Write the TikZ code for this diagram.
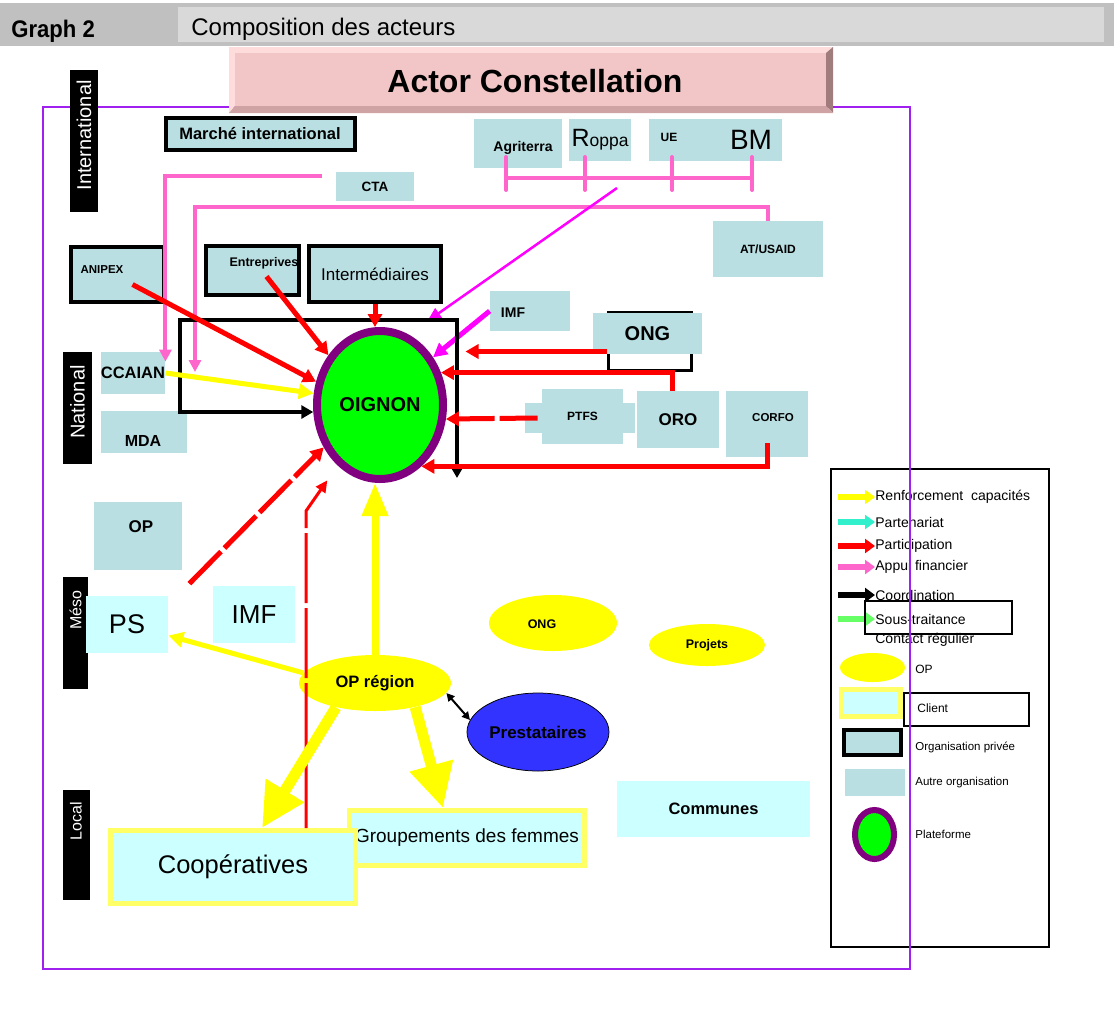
\documentclass[tikz,border=0pt]{standalone}
\usepackage{fontspec}
\setmainfont{Liberation Sans}
\newfontfamily\condfont[FakeStretch=0.92]{Liberation Sans}
\usetikzlibrary{arrows.meta,shapes.geometric}

\definecolor{orgblue}{RGB}{185,223,226}
\definecolor{clientcyan}{RGB}{204,255,255}
\definecolor{clientyellow}{RGB}{255,255,102}
\definecolor{opyellow}{RGB}{255,255,0}
\definecolor{oignongreen}{RGB}{0,255,0}
\definecolor{oignonpurple}{RGB}{128,0,128}
\definecolor{prestablue}{RGB}{51,51,255}
\definecolor{partred}{RGB}{255,0,0}
\definecolor{appuipink}{RGB}{255,102,204}
\definecolor{appuimagenta}{RGB}{255,0,255}
\definecolor{framepurple}{RGB}{160,32,240}
\definecolor{partcyan}{RGB}{51,240,204}
\definecolor{soustgreen}{RGB}{102,255,102}
\definecolor{hdrdark}{RGB}{192,192,192}
\definecolor{hdrlight}{RGB}{217,217,217}
\definecolor{bannerpink}{RGB}{242,198,198}
\definecolor{bannerlight}{RGB}{255,220,220}
\definecolor{bannerdark}{RGB}{160,124,124}
\definecolor{bannermid}{RGB}{207,163,163}

\tikzset{
  every picture/.style={line width=0.75pt},
  txtb/.style={font=\fontsize{#1}{#1}\selectfont\bfseries},
  txtr/.style={font=\fontsize{#1}{#1}\selectfont},
  dims/.style 2 args={minimum width=#1pt, minimum height=#2pt},
  autre/.style={fill=orgblue, inner sep=0pt},
  privee/.style={fill=orgblue, draw=black, line width=4pt, inner sep=0pt},
  client/.style={fill=clientcyan, draw=clientyellow, line width=5pt, inner sep=0pt},
  mesobox/.style={fill=clientcyan, inner sep=0pt},
  opcloud/.style={ellipse, fill=opyellow, inner sep=0pt},
  niveau/.style={fill=black, inner sep=0pt},
  niveautxt/.style={text=white, rotate=90, anchor=east, inner sep=0pt},
  legtxt/.style={anchor=west, inner sep=0pt},
  legarrow/.style={line width=6pt, -{Triangle[length=10pt,width=14pt]}},
  renf/.style={draw=opyellow, line width=5pt, -{Triangle[length=15pt,width=15pt]}},
  renfmid/.style={draw=opyellow, line width=7pt, -{Triangle[length=33pt,width=25pt]}},
  renfbig/.style={draw=opyellow, line width=11pt, -{Triangle[length=44pt,width=42pt]}},
  part/.style={draw=partred, line width=5pt, -{Triangle[length=13pt,width=14pt]}},
  partfin/.style={draw=partred, line width=3pt, -{Triangle[length=12pt,width=11pt]}},
  appui/.style={draw=appuipink, line width=4pt, -{Triangle[length=12pt,width=12pt]}},
  bracket/.style={draw=appuipink, line width=4pt, line cap=round},
  appuimag/.style={draw=appuimagenta, line width=2.5pt, -{Triangle[length=14pt,width=12pt]}},
  appuimagthick/.style={draw=appuimagenta, line width=5pt, -{Triangle[length=14pt,width=14pt]}},
  coord/.style={draw=black, line width=4pt, {Triangle[length=12pt,width=13pt]}-{Triangle[length=12pt,width=13pt]}},
  contact/.style={draw=black, line width=2pt, {Triangle[length=8pt,width=8pt]}-{Triangle[length=8pt,width=8pt]}}
}

\begin{document}
\begin{tikzpicture}[x=1pt,y=-1pt]
\useasboundingbox (0,0) rectangle (1114,1010);

%Header
\fill[hdrdark] (0,3) rectangle (1114,46);
\fill[hdrlight] (178,7) rectangle (1104,42);
\node[anchor=base west, inner sep=0pt, font=\condfont\fontsize{24}{24}\selectfont\bfseries] (hdrgraph) at (11,37) {Graph 2};
\node[anchor=base west, inner sep=0pt, txtr=24] (hdrtitle) at (191,35) {Composition des acteurs};

%Legend
\node[draw=black, line width=2pt, dims={218}{478}, inner sep=0pt] (legende) at (940,708) {};
\foreach \col/\ypos/\txt [count=\i] in {opyellow/497/{Renforcement\ \ capacités}, partcyan/522/Partenariat, partred/546/Participation, appuipink/567/{Appui financier}, black/595/Coordination, soustgreen/619/Sous-traitance}{
  \coordinate (legfrom\i) at (838,\ypos);
  \node[legtxt, txtr=14] (legtxt\i) at (875,\ypos) {\txt};
  \draw[legarrow, draw=\col] (legfrom\i) -- (legtxt\i.west);
}
\node[legtxt, txtr=14] (legcontact) at (875,640) {Contact régulier};
\node[draw=black, line width=2pt, dims={147}{33}, inner sep=0pt] (legsoustfrm) at (938.5,617.5) {};
\node[opcloud, dims={65}{29}] (legop) at (872.5,667.5) {};
\node[legtxt, txtr=12] (legop-txt) at (915,669) {OP};
\node[client, dims={59}{27}] (legclient) at (871,703) {};
\node[draw=black, line width=2pt, dims={125}{33}, inner sep=0pt] (legclientfrm) at (966.5,709.5) {};
\node[legtxt, txtr=12] (legclient-txt) at (917,708) {Client};
\node[privee, dims={57}{25}] (legprivee) at (872.5,742.5) {};
\node[legtxt, txtr=11.5] (legprivee-txt) at (915,747) {Organisation privée};
\node[autre, dims={60}{27}] (legautre) at (875,782.5) {};
\node[legtxt, txtr=11.5] (legautre-txt) at (915,783) {Autre organisation};
\node[ellipse, draw=oignonpurple, line width=6pt, fill=oignongreen, dims={39}{49}, inner sep=0pt] (legplat) at (874.5,834.5) {};
\node[legtxt, txtr=11.5] (legplat-txt) at (915,834) {Plateforme};

%Frame
\draw[framepurple, line width=2pt] (43,107) rectangle (910,969);

%Banner
\fill[bannerlight] (229,47) -- (833,47) -- (826,53) -- (235,53) -- (235,106) -- (229,113) -- cycle;
\fill[bannerdark] (833,47) -- (833,113) -- (826,106) -- (826,53) -- cycle;
\fill[bannermid] (229,113) -- (833,113) -- (826,106) -- (235,106) -- cycle;
\fill[bannerpink] (235,53) rectangle (826,106);
\node[txtb=32] (titre) at (535,81) {Actor Constellation};

%Levels
\node[niveau, dims={28}{142}] (intl) at (84,141) {};
\node[niveautxt, txtr=20] (intl-txt) at (84,80) {International};
\node[niveau, dims={29}{112}] (natl) at (77.5,408) {};
\node[niveautxt, txtr=20] (natl-txt) at (77.5,365) {National};
\node[niveau, dims={25}{112}] (mesol) at (75.5,633) {};
\node[niveautxt, txtr=16] (mesol-txt) at (75.5,590) {Méso};
\node[niveau, dims={27}{110}] (locl) at (76,845) {};
\node[niveautxt, txtr=16] (locl-txt) at (76,802) {Local};

%International actors
\node[privee, dims={189}{32}, txtb=16.5] (marche) at (260,134) {Marché international};
\node[autre, dims={88}{49}] (agriterra) at (518,143.5) {};
\node[txtb=14] (agriterra-txt) at (523,148) {Agriterra};
\node[autre, dims={62}{42}, txtr=17.5] (roppa) at (600,140) {{\fontsize{25}{25}\selectfont R}oppa};
\node[autre, dims={71}{42}] (ue) at (684.5,140) {};
\node[txtb=12] (ue-txt) at (669,137) {UE};
\node[autre, dims={62}{42}, txtr=28] (bm) at (751,140) {BM};
\node[autre, dims={78}{29}, txtb=13.5] (cta) at (375,186.5) {CTA};
\node[autre, dims={110}{56}, txtb=12] (atusaid) at (768,249) {AT/USAID};

%National actors
\node[privee, dims={93}{55}] (anipex) at (117.5,274.5) {};
\node[txtb=11.5] (anipex-txt) at (102,270) {ANIPEX};
\node[privee, dims={93}{49}] (entrepr) at (252.5,270.5) {};
\node[txtb=12.5] (entrepr-txt) at (264,263) {Entreprives};
\node[privee, dims={132}{56}, txtr=17] (interm) at (375,274) {Intermédiaires};
\node[autre, dims={62}{42}, txtb=16.5] (ccaian) at (133,373) {CCAIAN};
\node[autre, dims={86}{42}] (mda) at (144,432) {};
\node[txtb=16] (mda-txt) at (143,441) {MDA};
\node[autre, dims={80}{40}] (imfnat) at (530,311) {};
\node[txtb=14] (imfnat-txt) at (513,313) {IMF};
\node[draw=black, line width=3pt, dims={83}{58}, inner sep=0pt] (ongfrm) at (649.5,341) {};
\node[autre, dims={109}{41}, txtb=20] (ongnat) at (647.5,333.5) {ONG};
\node[autre, dims={110}{30}] (ptfswide) at (580,418) {};
\node[autre, dims={81}{55}, txtb=12] (ptfs) at (582.5,416.5) {PTFS};
\node[autre, dims={82}{57}, txtb=17] (oro) at (678,419.5) {ORO};
\node[autre, dims={82}{66}] (corfo) at (767,424) {};
\node[txtb=11.5] (corfo-txt) at (773,418) {CORFO};
\node[ellipse, draw=oignonpurple, line width=8pt, fill=oignongreen, dims={126}{148}, inner sep=0pt, txtb=20] (oignon) at (380,405) {OIGNON};

%Meso and local actors
\node[autre, dims={88}{68}] (opmeso) at (138,536) {};
\node[txtb=17] (opmeso-txt) at (141,527) {OP};
\node[mesobox, dims={82}{57}, txtr=27] (ps) at (127,624.5) {PS};
\node[mesobox, dims={82}{57}, txtr=26] (imfmeso) at (254,614.5) {IMF};
\node[opcloud, dims={152}{56}, txtb=16.5] (opregion) at (375,683) {OP région};
\node[opcloud, dims={128}{56}] (ongmeso) at (553,623) {};
\node[txtb=12.5] (ongmeso-txt) at (542,624) {ONG};
\node[opcloud, dims={116}{42}, txtb=12.5] (projets) at (707,645) {Projets};
\node[ellipse, draw=black, fill=prestablue, dims={142}{78}, inner sep=0pt, txtb=17] (presta) at (538,732) {Prestataires};
\node[mesobox, dims={193}{56}, txtb=16.5] (communes) at (713.5,809) {Communes};
\node[client, dims={235}{55}, txtr=19] (groupe) at (467,838) {Groupements des femmes};
\node[client, dims={245}{73}, txtr=25.5] (coop) at (233,867) {Coopératives};

%Appui financier
\draw[bracket] (506,178) -- (752,178);
\foreach \tx in {506,585,672,752}
  \draw[bracket] (\tx,157) -- (\tx,190);
\draw[appui] ([xshift=-14pt,yshift=10.5pt]cta.west) -| ([yshift=-10pt]ccaian.north east);
\coordinate (appuicorner) at (195,207);
\coordinate (appuiend) at (195,372);
\draw[appui] (atusaid.north) |- (appuicorner) -- (appuiend);
\coordinate (bailleurs) at (617,188);
\draw[appuimag, shorten >=23pt] (bailleurs) -- (oignon.68);
\draw[appuimagthick] (imfnat.west) -- (oignon.42);

%Coordination
\coordinate (coordtl) at (180,320);
\coordinate (coordend) at (457,478);
\draw[coord] (oignon.186) -| (coordtl) -| (coordend);

%Participation
\draw[part] ([xshift=15pt,yshift=-10pt]anipex.center) -- (oignon.160);
\draw[part] ([xshift=14pt,yshift=-6pt]entrepr.center) -- (oignon.136);
\draw[part] (interm.south) -- (interm.south |- oignon.north);
\draw[part] ([yshift=-41pt]ongfrm.north west) -- ++(-141,0);
\draw[part] ([xshift=-6pt]oro.north) |- (oignon.28);
\draw[part, dash pattern=on 38pt off 5pt] ([xshift=13pt]ptfswide.west) -- (oignon.-12);
\draw[part] ([yshift=14pt]corfo.south) |- (oignon.-56);
\draw[part, dash pattern=on 45pt off 5pt] ([xshift=21pt,yshift=12pt]ps.north east) -- (oignon.217);
\draw[partfin, dash pattern=on 70pt off 5pt, shorten >=18pt] ([xshift=73pt]coop.north) -- ++(0,-317) -- (oignon.235);

%Renforcement capacites
\draw[renf] (ccaian.east) -- (oignon.170);
\draw[renfmid] (opregion.north) -- (opregion.north |- oignon.south);
\draw[renf] (opregion.172) -- (ps.-15);
\draw[renfbig] (opregion.212) -- ([xshift=29pt]coop.north);
\draw[renfbig] (opregion.-31) -- ([xshift=-24pt]groupe.north);

%Contact
\draw[contact] (opregion.-8) -- (presta.170);

\end{tikzpicture}
\end{document}
